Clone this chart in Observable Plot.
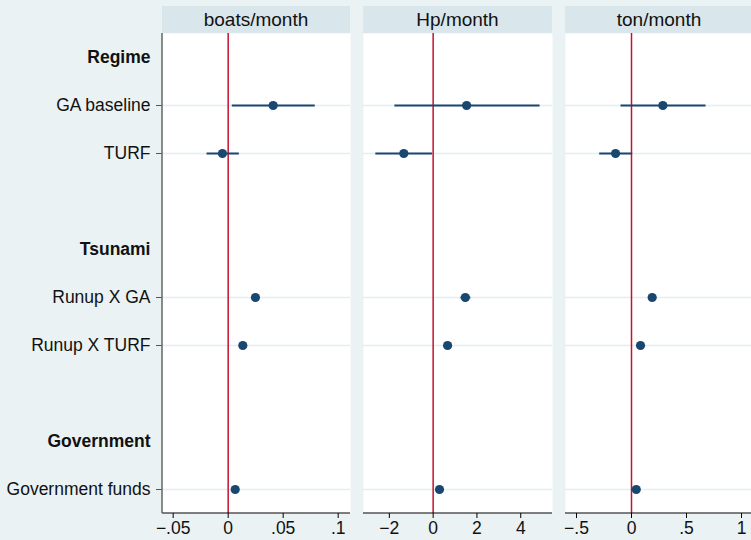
<!DOCTYPE html>
<html>
<head>
<meta charset="utf-8">
<script src="https://cdn.jsdelivr.net/npm/d3@7"></script>
<script src="https://cdn.jsdelivr.net/npm/@observablehq/plot@0.6"></script>
<style>
  html, body { margin: 0; padding: 0; background: #eaf2f3; }
  #wrap { position: relative; width: 751px; height: 540px; overflow: hidden; background: #eaf2f3;
          font-family: "Liberation Sans", Arial, sans-serif; }
  .strip { position: absolute; top: 6px; height: 27px; background: #d9e6eb; color: #111;
           font-size: 19px; line-height: 28px; text-align: center; }
  .panel { position: absolute; top: 0; }
  .panel svg { max-width: none !important; display: block; }
</style>
</head>
<body>
<div id="wrap"></div>
<script>
// ---- data ----
const rowOrder = ["Regime", "GA baseline", "TURF", "gap1", "Tsunami", "Runup X GA", "Runup X TURF", "gap2", "Government", "Government funds"];
const groupLabels = ["Regime", "Tsunami", "Government"];
const coefLabels = ["GA baseline", "TURF", "Runup X GA", "Runup X TURF", "Government funds"];

const panelTitles = ["boats/month", "Hp/month", "ton/month"];

const boatsEst = [0.0409, -0.0052, 0.0248, 0.0133, 0.0064];
const boatsLo  = [0.0033, -0.0197, 0.0230, 0.0120, 0.0052];
const boatsHi  = [0.0787,  0.0097, 0.0266, 0.0146, 0.0076];

const hpEst = [1.53, -1.34, 1.47, 0.66, 0.29];
const hpLo  = [-1.77, -2.64, 1.25, 0.52, 0.16];
const hpHi  = [4.86, -0.05, 1.70, 0.80, 0.42];

const tonEst = [0.285, -0.145, 0.188, 0.082, 0.043];
const tonLo  = [-0.100, -0.294, 0.170, 0.070, 0.032];
const tonHi  = [0.673, 0.006, 0.206, 0.094, 0.054];

const boatsTicks = [-0.05, 0, 0.05, 0.1];
const hpTicks = [-2, 0, 2, 4];
const tonTicks = [-0.5, 0, 0.5, 1];

const boatsDomain = [-0.0597, 0.1112];
const hpDomain = [-3.18, 5.45];
const tonDomain = [-0.60, 1.109];

// ---- helpers ----
const fmt = d => {
  if (d === 0) return "0";
  const s = String(Math.abs(d)).replace(/^0\./, ".");
  return (d < 0 ? "\u2212" : "") + s;
};
const rows = (est, lo, hi) => coefLabels.map((label, i) => ({label, est: est[i], lo: lo[i], hi: hi[i]}));

const navy = "#1a476f";
const refRed = "#c8102e";
const FS = 17.5;

function bottomLine(index, scales, values, dims) {
  return d3.create("svg:line")
    .attr("x1", dims.marginLeft).attr("x2", dims.width - dims.marginRight)
    .attr("y1", dims.height - dims.marginBottom).attr("y2", dims.height - dims.marginBottom)
    .attr("stroke", "#000").attr("stroke-width", 1.2).node();
}
function leftLine(index, scales, values, dims) {
  return d3.create("svg:line")
    .attr("x1", dims.marginLeft).attr("x2", dims.marginLeft)
    .attr("y1", dims.marginTop).attr("y2", dims.height - dims.marginBottom)
    .attr("stroke", "#666").attr("stroke-width", 1.5).node();
}

function makePanel({data, domain, ticks, width, marginLeft, showY}) {
  const marks = [
    Plot.frame({fill: "white", stroke: "none"}),
    Plot.ruleY(coefLabels, {y: d => d, stroke: "#e4edf0", strokeWidth: 1.5}),
    Plot.ruleX([0], {stroke: refRed, strokeWidth: 1.5}),
    Plot.link(data, {x1: "lo", x2: "hi", y1: "label", y2: "label", stroke: navy, strokeWidth: 1.8}),
    Plot.dot(data, {x: "est", y: "label", r: 4.6, fill: navy, stroke: "none"}),
    Plot.axisX(ticks, {tickFormat: fmt, tickSize: 5, tickPadding: 3, fontSize: FS, stroke: "#000", fill: "#111", label: null}),
    bottomLine
  ];
  if (showY) {
    marks.push(
      Plot.axisY(coefLabels, {tickSize: 6, tickPadding: 6, fontSize: FS, stroke: "#555", fill: "#111", label: null}),
      Plot.text(groupLabels, {y: d => d, frameAnchor: "left", dx: -12, textAnchor: "end",
                              fontWeight: "bold", fontSize: FS, fill: "#111"}),
      leftLine
    );
  }
  return Plot.plot({
    width, height: 540,
    marginTop: 33, marginBottom: 27, marginLeft, marginRight: 0,
    style: {background: "transparent", fontFamily: "'Liberation Sans', Arial, sans-serif", fontSize: FS + "px", color: "#111", overflow: "visible"},
    x: {domain, axis: null},
    y: {type: "point", domain: rowOrder, padding: 0.5, axis: null},
    marks
  });
}

const wrap = document.getElementById("wrap");
const specs = [
  {left: 0, width: 350, marginLeft: 162, showY: true, data: rows(boatsEst, boatsLo, boatsHi), domain: boatsDomain, ticks: boatsTicks},
  {left: 363, width: 189, marginLeft: 0, showY: false, data: rows(hpEst, hpLo, hpHi), domain: hpDomain, ticks: hpTicks},
  {left: 565, width: 188, marginLeft: 0, showY: false, data: rows(tonEst, tonLo, tonHi), domain: tonDomain, ticks: tonTicks}
];
specs.forEach((s, i) => {
  const div = document.createElement("div");
  div.className = "panel";
  div.style.left = s.left + "px";
  div.style.width = s.width + "px";
  div.style.height = "540px";
  div.appendChild(makePanel(s));
  wrap.appendChild(div);
  const strip = document.createElement("div");
  strip.className = "strip";
  strip.style.left = (s.left + s.marginLeft) + "px";
  strip.style.width = (s.width - s.marginLeft) + "px";
  strip.textContent = panelTitles[i];
  wrap.appendChild(strip);
});
</script>
</body>
</html>
